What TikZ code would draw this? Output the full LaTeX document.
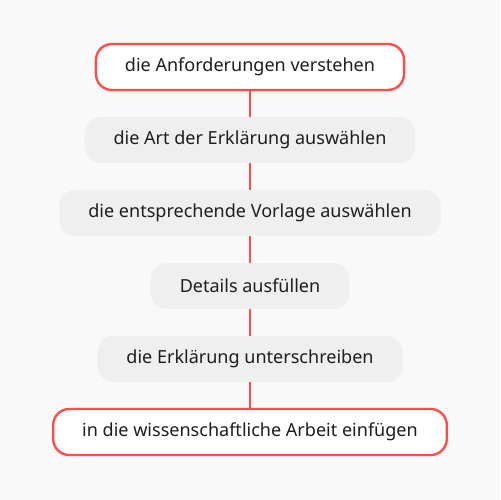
\documentclass[tikz,border=0pt]{standalone}
\usepackage{fontspec}
\setmainfont{Noto Sans}
\definecolor{pagebg}{HTML}{F9F9F9}
\definecolor{boxgray}{HTML}{EFEFEF}
\definecolor{linkred}{HTML}{FF4D4D}
\definecolor{txt}{HTML}{1E1E1E}
\tikzset{
  stage/.style = {rounded corners=16bp, minimum height=46bp, inner xsep=29bp,
    text=txt, font=\fontsize{18.1}{21}\selectfont},
  plainstage/.style = {stage, fill=boxgray},
  endstage/.style = {stage, fill=white, draw=linkred, line width=2.4bp},
  link/.style = {draw=linkred, line width=2bp}
}
\begin{document}
\begin{tikzpicture}[x=1bp,y=1bp]
\fill[pagebg] (0,0) rectangle (500,-500) ;
\useasboundingbox (0,0) rectangle (500,-500) ;

\node[endstage] (want) at (250,-67) {die Anforderungen verstehen} ;
\node[plainstage] (kind) at (250,-140) {die Art der Erklärung auswählen} ;
\node[plainstage] (form) at (250,-213) {die entsprechende Vorlage auswählen} ;
\node[plainstage] (fill) at (250,-286) {Details ausfüllen} ;
\node[plainstage] (sign) at (250,-359) {die Erklärung unterschreiben} ;
\node[endstage] (add) at (250,-432) {in die wissenschaftliche Arbeit einfügen} ;

\draw[link] (want) -- (kind) ;
\draw[link] (kind) -- (form) ;
\draw[link] (form) -- (fill) ;
\draw[link] (fill) -- (sign) ;
\draw[link] (sign) -- (add) ;
\end{tikzpicture}
\end{document}
